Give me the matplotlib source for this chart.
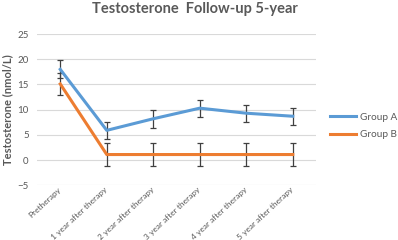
import matplotlib
matplotlib.use("Agg")
import matplotlib.pyplot as plt
from matplotlib.lines import Line2D
import numpy as np

categories = ["Pretherapy", "1 year after therapy", "2 year after therapy",
              "3 year after therapy", "4 year after therapy", "5 year after therapy"]
group_a = [18.0, 5.9, 8.2, 10.3, 9.3, 8.7]
group_a_err = [1.8, 1.7, 1.8, 1.7, 1.7, 1.7]
group_b = [15.1, 1.1, 1.1, 1.1, 1.1, 1.1]
group_b_err = [2.2, 2.2, 2.2, 2.2, 2.2, 2.2]
yticks = [-5, 0, 5, 10, 15, 20, 25]

plt.rcParams['font.family'] = ['Lato', 'DejaVu Sans']
gray = '#595959'

fig = plt.figure(figsize=(3.98, 2.40), dpi=100)
ax = fig.add_axes([0.093, 0.228, 0.701, 0.630])

x = np.arange(len(categories))
ax.errorbar(x, group_a, yerr=group_a_err, color='#5B9BD5', lw=2.2,
            ecolor='#404040', elinewidth=0.9, capsize=2.2, capthick=0.9,
            label='Group A', zorder=3)
ax.errorbar(x, group_b, yerr=group_b_err, color='#ED7D31', lw=2.2,
            ecolor='#404040', elinewidth=0.9, capsize=2.2, capthick=0.9,
            label='Group B', zorder=3)

ax.set_xlim(-0.5, len(categories) - 0.5)
ax.set_ylim(-5, 25)
ax.set_yticks(yticks)
ax.grid(axis='y', color='#D9D9D9', lw=0.8)
ax.set_axisbelow(True)
for s in ax.spines.values():
    s.set_visible(False)
ax.tick_params(axis='y', length=0, labelsize=7, colors=gray, pad=6)
ax.tick_params(axis='x', length=0, labelsize=6.0, colors=gray, pad=2)
ax.set_xticks(x)
ax.set_xticklabels(categories, rotation=43, ha='right', va='center', rotation_mode='anchor')
ax.set_ylabel('Testosterone (nmol/L)', fontsize=8, color=gray, fontweight='bold', labelpad=3)

fig.suptitle('Testosterone  Follow-up 5-year', x=0.49, y=0.99, fontsize=10.5,
             fontweight='bold', color=gray)

labels = ['Group A', 'Group B']
hs = [Line2D([0], [0], color='#5B9BD5', lw=2.2), Line2D([0], [0], color='#ED7D31', lw=2.2)]
fig.legend(hs, labels, loc='upper left', bbox_to_anchor=(0.83, 0.53), frameon=False,
           fontsize=7.2, labelcolor=gray, handlelength=2.6, handletextpad=0.4,
           labelspacing=0.85, borderaxespad=0, borderpad=0)

fig.savefig('out.png', dpi=100)
